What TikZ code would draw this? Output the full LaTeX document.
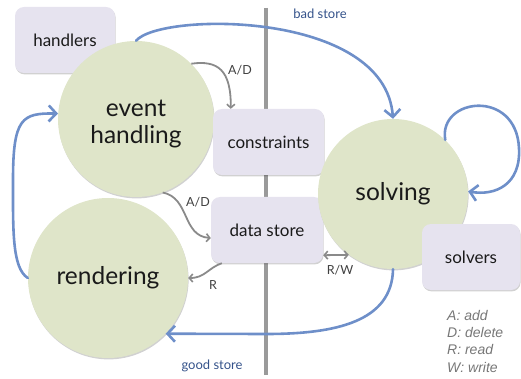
\documentclass[tikz,border=0pt]{standalone}
\usepackage{fontspec}
\setmainfont{Lato}
\newfontfamily\legendfont{Liberation Sans}
\usetikzlibrary{arrows.meta,shadows,calc}

\definecolor{bubblefill}{HTML}{DFE5C9}
\definecolor{panelfill}{HTML}{E6E3EF}
\definecolor{flowblue}{HTML}{6E8FC9}
\definecolor{accessgray}{HTML}{8A8A8A}
\definecolor{dividergray}{HTML}{9A9A9A}
\definecolor{storeblue}{HTML}{34528A}
\definecolor{legendgray}{HTML}{777777}
\definecolor{ink}{HTML}{1A1A1A}

\tikzset{
  softshadow/.style={drop shadow={shadow xshift=0.6pt, shadow yshift=-1.4pt,
      opacity=0.18, fill=black}},
  bubble/.style={circle, fill=bubblefill, inner sep=0pt, align=center,
      text=ink, font=\fontsize{24.5}{27}\selectfont, softshadow},
  panel/.style={rounded corners=9pt, fill=panelfill, inner sep=0pt,
      minimum height=66pt, text=ink, font=\fontsize{17}{19}\selectfont,
      softshadow},
  flow/.style={draw=flowblue, line width=2.6pt, line cap=round,
      -{Straight Barb[length=7.5pt,width=16pt,line width=2.6pt]}},
  access/.style={draw=accessgray, line width=1.8pt,
      -{Straight Barb[length=3.5pt,width=8pt,line width=1.6pt]}},
  twoway/.style={draw=accessgray, line width=1.8pt,
      {Straight Barb[length=3.5pt,width=8pt,line width=1.6pt]}-{Straight Barb[length=3.5pt,width=8pt,line width=1.6pt]}},
  divider/.style={draw=dividergray, line width=4pt},
  tag/.style={text=black!75, font=\fontsize{12.5}{14}\selectfont, inner sep=0pt},
  storetag/.style={text=storeblue, font=\fontsize{13}{15}\selectfont, inner sep=0pt},
  legendline/.style={text=legendgray, anchor=base west, inner sep=0pt,
      font=\legendfont\itshape\fontsize{14}{16}\selectfont},
}

\begin{document}
\begin{tikzpicture}[x=1pt, y=-1pt]
\useasboundingbox (0,0) rectangle (521,379);

% client / store boundary
\coordinate (divtop) at (266,8);
\coordinate (divbot) at (266,375);
\draw[divider] (divtop) -- (divbot);

% components and stages
\node[panel, minimum width=100pt] (handlers) at (65,40) {handlers};
\node[bubble, minimum size=156pt] (eh) at (136,119) {\rule{0pt}{26pt}event\\handling};
\node[bubble, minimum size=160pt] (rend) at (108,278) {rendering};
\node[panel, minimum width=111pt] (constr) at (268.5,142) {constraints};
\node[panel, minimum width=112pt] (dstore) at (267,230) {data store};
\node[bubble, minimum size=150pt] (solv) at (393,194) {solving};
\node[panel, minimum width=98pt] (solvers) at (471,257) {solvers};

% control flow between stages
\draw[flow] (eh.north) .. controls (160,12) and (385,10) .. (solv.north);
\draw[flow] (solv.46) .. controls (438,98) and (516,88) .. (519,148)
            .. controls (521,185) and (495,196) .. (solv.2);
\draw[flow] (solv.south) .. controls (392,322) and (335,334) .. (266,334)
            -- (rend.-44);
\draw[flow] (rend.west) .. controls (12,268) and (13,230) .. (13,180)
            .. controls (13,118) and (22,113) .. (eh.176);

% data access
\draw[access] (eh.45) .. controls (218,60) and (231,70)
              .. ($(constr.north west)+(18,0)$);
\draw[access] (eh.-70) .. controls (190,198) and (182,236)
              .. ($(dstore.west)+(0,8)$);
\draw[access] ($(dstore.south west)+(11,0)$) .. controls (208,268) and (205,278)
              .. (rend.east);
\draw[twoway] ($(dstore.south east)+(0,-8)$) -- (solv.234);

% access labels
\node[tag] (ad1) at (240,70) {A/D};
\node[tag] (ad2) at (198,202) {A/D};
\node[tag] (rd) at (213,285) {R};
\node[tag] (rw) at (340,270) {R/W};

% store kinds
\node[storetag] (bad) at (320,14) {bad store};
\node[storetag] (good) at (212,366) {good store};

% legend
\node[legendline] (lga) at (447,320) {A: add};
\node[legendline] (lgd) at (447,337.3) {D: delete};
\node[legendline] (lgr) at (447,354.6) {R: read};
\node[legendline] (lgw) at (447,372) {W: write};
\end{tikzpicture}
\end{document}
